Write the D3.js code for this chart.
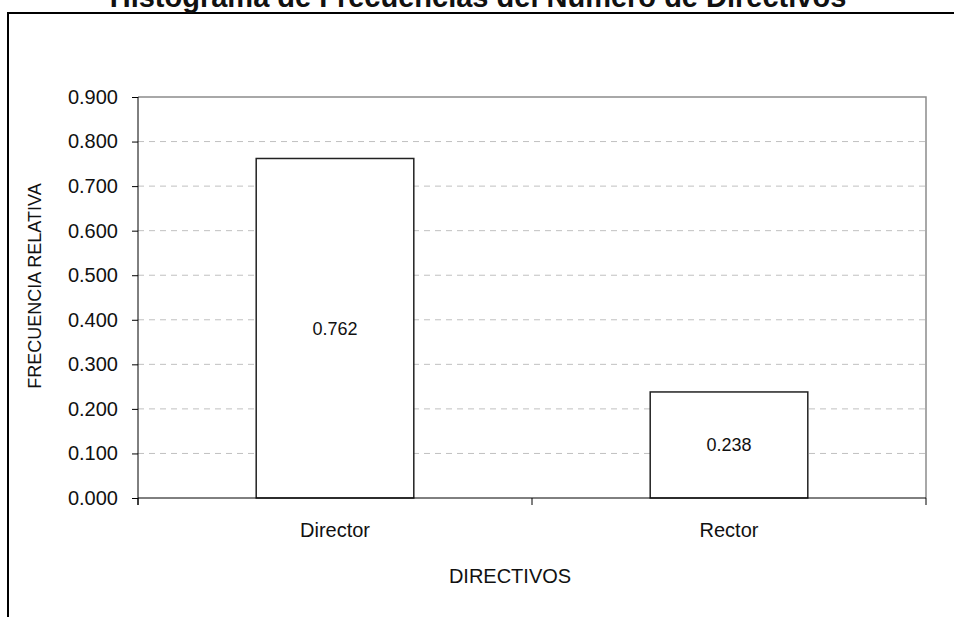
<!DOCTYPE html>
<html>
<head>
<meta charset="utf-8">
<script src="https://cdn.jsdelivr.net/npm/d3@7"></script>
<style>
  body { margin: 0; background: #fff; }
  text { font-family: Arial, "Liberation Sans", sans-serif; fill: #111; }
</style>
</head>
<body>
<script>
var width = 954;
var height = 617;

// data
var categories = ['Director', 'Rector'];
var frequencies = [0.762, 0.238];
var yTicks = [0, 0.1, 0.2, 0.3, 0.4, 0.5, 0.6, 0.7, 0.8, 0.9];

var title = 'Histograma de Frecuencias del Número de Directivos';
var xTitle = 'DIRECTIVOS';
var yTitle = 'FRECUENCIA RELATIVA';

var margin = {left: 138, top: 97, right: 28, bottom: 119};
var plotW = width - margin.left - margin.right;
var plotH = height - margin.top - margin.bottom;

var svg = d3.select('body').append('svg')
            .attr('width', width)
            .attr('height', height);

// outer frame (only top and left are visible in the window)
svg.append('rect')
    .attr('x', 8).attr('y', 13)
    .attr('width', 1000).attr('height', 700)
    .attr('fill', 'none')
    .attr('stroke', '#000')
    .attr('stroke-width', 2);

svg.append('text')
    .attr('x', 478)
    .attr('y', 7)
    .attr('text-anchor', 'middle')
    .style('font-size', '29px')
    .style('font-weight', 'bold')
    .text(title);

var g = svg.append('g')
            .attr('transform', 'translate(' + margin.left + ',' + margin.top + ')');

var x = d3.scaleBand()
          .domain(categories)
          .range([0, plotW])
          .paddingInner(0.6)
          .paddingOuter(0.3);

var y = d3.scaleLinear()
          .domain([0, 0.9])
          .range([plotH, 0]);

// dashed gridlines
g.selectAll('.grid')
  .data(yTicks.filter(function(d) { return d > 0 && d < 0.9; }))
  .enter().append('line')
    .attr('class', 'grid')
    .attr('x1', 0).attr('x2', plotW)
    .attr('y1', function(d) { return y(d); })
    .attr('y2', function(d) { return y(d); })
    .attr('stroke', '#c0c0c0')
    .attr('stroke-dasharray', '6,5');

// top and right border of the plot area
g.append('path')
  .attr('d', 'M0,' + y(0.9) + 'H' + plotW + 'V' + y(0))
  .attr('fill', 'none')
  .attr('stroke', '#8c8c8c')
  .attr('stroke-width', 1.5);

// bars
g.selectAll('.bar')
  .data(frequencies)
  .enter().append('rect')
    .attr('class', 'bar')
    .attr('x', function(d, i) { return x(categories[i]); })
    .attr('y', function(d) { return y(d); })
    .attr('width', x.bandwidth())
    .attr('height', function(d) { return y(0) - y(d); })
    .attr('fill', '#fff')
    .attr('stroke', '#222')
    .attr('stroke-width', 1.5);

g.selectAll('.val')
  .data(frequencies)
  .enter().append('text')
    .attr('class', 'val')
    .attr('x', function(d, i) { return x(categories[i]) + x.bandwidth() / 2; })
    .attr('y', function(d) { return (y(d) + y(0)) / 2; })
    .attr('dy', '0.35em')
    .attr('text-anchor', 'middle')
    .style('font-size', '18px')
    .text(function(d) { return d3.format('.3f')(d); });

// y axis
var yAxis = g.append('g')
  .call(d3.axisLeft(y)
    .tickValues(yTicks)
    .tickFormat(d3.format('.3f'))
    .tickSize(6)
    .tickPadding(14));
yAxis.select('.domain').remove();
yAxis.selectAll('line').attr('stroke', '#000');
yAxis.selectAll('text').style('font-size', '20px').style('font-family', 'Arial, "Liberation Sans", sans-serif').attr('fill', '#111');

g.append('line')
  .attr('x1', 0).attr('x2', 0)
  .attr('y1', y(0.9)).attr('y2', y(0) + 7)
  .attr('stroke', '#000');

// x axis
var xAxis = g.append('g')
  .attr('transform', 'translate(0,' + y(0) + ')')
  .call(d3.axisBottom(x).tickSize(0).tickPadding(25));
xAxis.select('.domain').remove();
xAxis.selectAll('text').style('font-size', '20px').style('font-family', 'Arial, "Liberation Sans", sans-serif').attr('fill', '#111');

g.append('line')
  .attr('x1', 0).attr('x2', plotW)
  .attr('y1', y(0)).attr('y2', y(0))
  .attr('stroke', '#000');

// category boundary ticks
g.selectAll('.xtick')
  .data(d3.range(categories.length + 1))
  .enter().append('line')
    .attr('class', 'xtick')
    .attr('x1', function(i) { return i * x.step(); })
    .attr('x2', function(i) { return i * x.step(); })
    .attr('y1', y(0)).attr('y2', y(0) + 7)
    .attr('stroke', '#000');

// axis titles
svg.append('text')
    .attr('x', 510)
    .attr('y', 576)
    .attr('dy', '0.35em')
    .attr('text-anchor', 'middle')
    .style('font-size', '20px')
    .text(xTitle);

svg.append('text')
    .attr('transform', 'translate(35,286) rotate(-90)')
    .attr('dy', '0.35em')
    .attr('text-anchor', 'middle')
    .style('font-size', '18px')
    .text(yTitle);
</script>
</body>
</html>
